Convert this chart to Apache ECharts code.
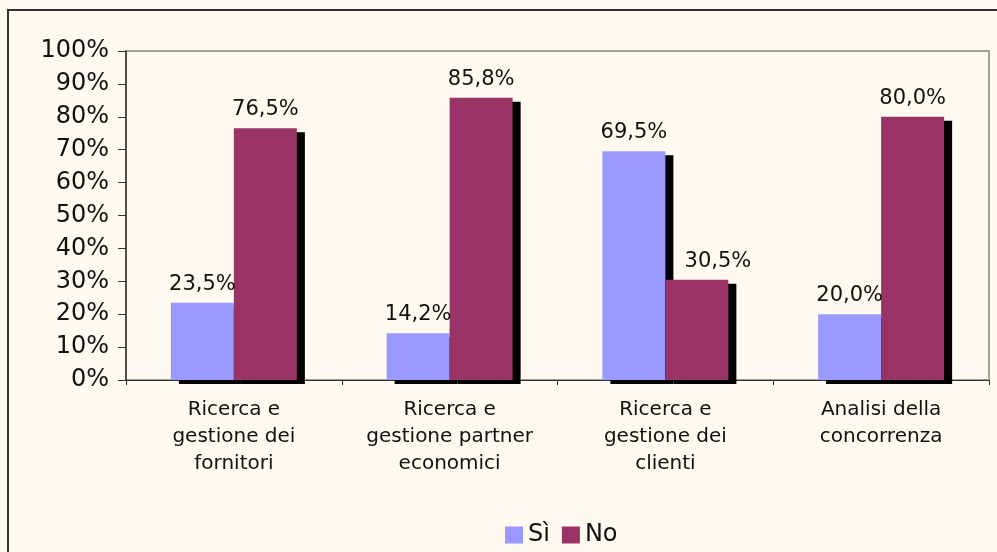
<!DOCTYPE html>
<html>
<head>
<meta charset="utf-8">
<script src="https://cdn.jsdelivr.net/npm/echarts@6/dist/echarts.min.js"></script>
<style>
html, body { margin: 0; padding: 0; background: #fefaef; }
#chart { width: 997px; height: 552px; }
</style>
</head>
<body>
<div id="chart"></div>
<script>
// categorie e valori
const categories = [
    'Ricerca e\ngestione dei\nfornitori',
    'Ricerca e\ngestione partner\neconomici',
    'Ricerca e\ngestione dei\nclienti',
    'Analisi della\nconcorrenza'
];
const seriesNames = ['Sì', 'No'];
const valuesSi = [23.5, 14.2, 69.5, 20.0];
const valuesNo = [76.5, 85.8, 30.5, 80.0];
const colors = ['#9999ff', '#993366'];

const font = 'DejaVu Sans';
const fmt = v => v.toFixed(1).replace('.', ',') + '%';

const chart = echarts.init(document.getElementById('chart'));

function barSeries(name, values, color) {
    // l'etichetta "30,5%" nell'originale è spostata a destra
    const data = values.map((v, i) =>
        (name === 'No' && i === 2) ? { value: v, label: { offset: [21, 0] } } : v);
    return {
        name: name,
        type: 'bar',
        data: data,
        barWidth: 63,
        barGap: '0%',
        itemStyle: {
            color: color,
            shadowColor: '#000',
            shadowBlur: 0,
            shadowOffsetX: 8,
            shadowOffsetY: 4
        },
        label: {
            show: true,
            position: 'top',
            distance: 8,
            fontFamily: font,
            fontSize: 21,
            color: '#111',
            formatter: p => fmt(p.value)
        }
    };
}

const option = {
    backgroundColor: '#fefaef',
    animation: false,
    graphic: [{
        type: 'rect',
        silent: true,
        shape: { x: 8, y: 10, width: 1000, height: 600 },
        style: { fill: 'none', stroke: '#333', lineWidth: 2 }
    }],
    grid: {
        left: 126, right: 8, top: 51, bottom: 172,
        show: true,
        borderColor: '#a0a0a0',
        borderWidth: 2,
        backgroundColor: 'transparent'
    },
    legend: {
        data: seriesNames,
        left: 500,
        top: 518,
        itemWidth: 18,
        itemHeight: 17,
        itemGap: 12,
        icon: 'rect',
        textStyle: { fontFamily: font, fontSize: 24, color: '#111' }
    },
    xAxis: {
        type: 'category',
        data: categories,
        axisLine: { lineStyle: { color: '#333', width: 1 } },
        axisTick: { show: true, length: 5, lineStyle: { color: '#333' } },
        axisLabel: {
            interval: 0,
            margin: 16,
            fontFamily: font,
            fontSize: 20,
            lineHeight: 27,
            color: '#111'
        }
    },
    yAxis: {
        type: 'value',
        min: 0,
        max: 100,
        interval: 10,
        axisLine: { show: true, lineStyle: { color: '#333', width: 1.5 } },
        axisTick: { show: true, length: 8, lineStyle: { color: '#333' } },
        splitLine: { show: false },
        axisLabel: {
            margin: 17,
            fontFamily: font,
            fontSize: 24,
            color: '#111',
            formatter: '{value}%'
        }
    },
    series: [
        barSeries(seriesNames[0], valuesSi, colors[0]),
        barSeries(seriesNames[1], valuesNo, colors[1])
    ]
};

chart.setOption(option);
</script>
</body>
</html>
